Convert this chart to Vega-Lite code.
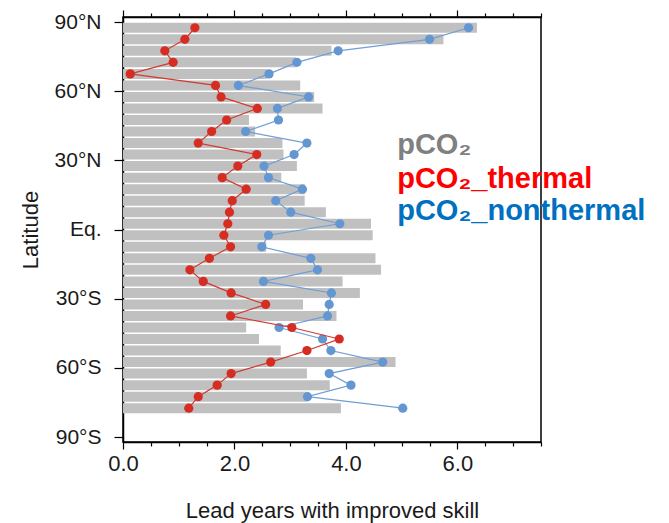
{
  "$schema": "https://vega.github.io/schema/vega-lite/v6.json",
  "width": 418,
  "height": 425,
  "autosize": {"type": "none"},
  "padding": {"left": 123, "top": 17, "right": 128, "bottom": 81},
  "background": "white",
  "config": {
    "font": "Liberation Sans",
    "view": {"stroke": "black", "strokeWidth": 1.5},
    "axis": {"grid": false, "domainColor": "black", "domainWidth": 1.5, "tickColor": "black", "tickWidth": 1.2, "labelColor": "#1a1a1a", "titleColor": "#1a1a1a", "labelFont": "Liberation Sans", "titleFont": "Liberation Sans", "titleFontWeight": "normal", "labelFlush": false}
  },
  "datasets": {
    "zonal": [
      {"lat": 87.5, "pco2": 6.35, "thermal": 1.29, "nonthermal": 6.20},
      {"lat": 82.5, "pco2": 5.75, "thermal": 1.11, "nonthermal": 5.50},
      {"lat": 77.5, "pco2": 3.74, "thermal": 0.75, "nonthermal": 3.86},
      {"lat": 72.5, "pco2": 3.10, "thermal": 0.90, "nonthermal": 3.12},
      {"lat": 67.5, "pco2": 2.58, "thermal": 0.13, "nonthermal": 2.62},
      {"lat": 62.5, "pco2": 3.18, "thermal": 1.66, "nonthermal": 2.07},
      {"lat": 57.5, "pco2": 3.43, "thermal": 1.76, "nonthermal": 3.33},
      {"lat": 52.5, "pco2": 3.58, "thermal": 2.41, "nonthermal": 2.77},
      {"lat": 47.5, "pco2": 2.26, "thermal": 1.86, "nonthermal": 2.79},
      {"lat": 42.5, "pco2": 2.37, "thermal": 1.59, "nonthermal": 2.20},
      {"lat": 37.5, "pco2": 2.86, "thermal": 1.35, "nonthermal": 3.30},
      {"lat": 32.5, "pco2": 2.88, "thermal": 2.40, "nonthermal": 3.07},
      {"lat": 27.5, "pco2": 3.12, "thermal": 2.06, "nonthermal": 2.53},
      {"lat": 22.5, "pco2": 2.84, "thermal": 1.78, "nonthermal": 2.61},
      {"lat": 17.5, "pco2": 3.26, "thermal": 2.21, "nonthermal": 3.22},
      {"lat": 12.5, "pco2": 3.26, "thermal": 1.96, "nonthermal": 2.74},
      {"lat": 7.5, "pco2": 3.64, "thermal": 1.91, "nonthermal": 3.01},
      {"lat": 2.5, "pco2": 4.45, "thermal": 1.88, "nonthermal": 3.89},
      {"lat": -2.5, "pco2": 4.48, "thermal": 1.81, "nonthermal": 2.61},
      {"lat": -7.5, "pco2": 2.57, "thermal": 1.93, "nonthermal": 2.49},
      {"lat": -12.5, "pco2": 4.53, "thermal": 1.55, "nonthermal": 3.37},
      {"lat": -17.5, "pco2": 4.63, "thermal": 1.20, "nonthermal": 3.49},
      {"lat": -22.5, "pco2": 3.94, "thermal": 1.44, "nonthermal": 2.52},
      {"lat": -27.5, "pco2": 4.25, "thermal": 1.94, "nonthermal": 3.74},
      {"lat": -32.5, "pco2": 3.23, "thermal": 2.56, "nonthermal": 3.70},
      {"lat": -37.5, "pco2": 3.83, "thermal": 1.93, "nonthermal": 3.67},
      {"lat": -42.5, "pco2": 2.21, "thermal": 3.03, "nonthermal": 2.80},
      {"lat": -47.5, "pco2": 2.44, "thermal": 3.88, "nonthermal": 3.58},
      {"lat": -52.5, "pco2": 2.83, "thermal": 3.30, "nonthermal": 3.73},
      {"lat": -57.5, "pco2": 4.89, "thermal": 2.65, "nonthermal": 4.66},
      {"lat": -62.5, "pco2": 3.30, "thermal": 1.94, "nonthermal": 3.70},
      {"lat": -67.5, "pco2": 3.71, "thermal": 1.69, "nonthermal": 4.09},
      {"lat": -72.5, "pco2": 3.31, "thermal": 1.35, "nonthermal": 3.31},
      {"lat": -77.5, "pco2": 3.91, "thermal": 1.18, "nonthermal": 5.02}
    ]
  },
  "data": {"name": "zonal"},
  "layer": [
    {
      "mark": {"type": "bar", "orient": "horizontal", "size": 10, "color": "#c0c0c0"},
      "encoding": {
        "y": {"field": "lat", "type": "quantitative", "scale": {"domain": [-90, 90], "nice": false, "zero": false},
          "axis": {"title": "Latitude", "values": [-90, -60, -30, 0, 30, 60, 90], "labelExpr": "datum.value == 0 ? 'Eq.' : abs(datum.value) + '°' + (datum.value > 0 ? 'N' : 'S')", "tickSize": 9, "labelPadding": 13, "labelFontSize": 21, "titleFontSize": 22, "titlePadding": 12}},
        "x": {"field": "pco2", "type": "quantitative", "scale": {"domain": [0, 7.5], "nice": false},
          "axis": {"orient": "bottom", "title": "Lead years with improved skill", "values": [0, 0.5, 1, 1.5, 2, 2.5, 3, 3.5, 4, 4.5, 5, 5.5, 6, 6.5, 7, 7.5], "labelExpr": "datum.value % 2 == 0 ? format(datum.value, '.1f') : ''", "tickSize": {"condition": {"test": "datum.value % 2 == 0", "value": 7}, "value": 4}, "labelPadding": 4, "labelFontSize": 22, "titleFontSize": 22, "titlePadding": 26}}
      }
    },
    {
      "mark": {"type": "line", "color": "#6f9fd6", "strokeWidth": 1.2},
      "encoding": {
        "y": {"field": "lat", "type": "quantitative"},
        "x": {"field": "nonthermal", "type": "quantitative",
          "axis": {"orient": "top", "title": null, "labels": false, "values": [0, 0.5, 1, 1.5, 2, 2.5, 3, 3.5, 4, 4.5, 5, 5.5, 6, 6.5, 7, 7.5], "tickSize": {"condition": {"test": "datum.value % 2 == 0", "value": 7}, "value": 4}}},
        "order": {"field": "lat", "type": "quantitative"}
      }
    },
    {
      "mark": {"type": "circle", "color": "#6497d2", "opacity": 1, "size": 85},
      "encoding": {
        "y": {"field": "lat", "type": "quantitative"},
        "x": {"field": "nonthermal", "type": "quantitative", "axis": null}
      }
    },
    {
      "mark": {"type": "line", "color": "#d23a2e", "strokeWidth": 1.2},
      "encoding": {
        "y": {"field": "lat", "type": "quantitative"},
        "x": {"field": "thermal", "type": "quantitative", "axis": null},
        "order": {"field": "lat", "type": "quantitative"}
      }
    },
    {
      "mark": {"type": "circle", "color": "#d52d22", "opacity": 1, "size": 85},
      "encoding": {
        "y": {"field": "lat", "type": "quantitative"},
        "x": {"field": "thermal", "type": "quantitative", "axis": null}
      }
    },
    {
      "data": {"values": [{}]},
      "mark": {"type": "text", "align": "left", "baseline": "alphabetic", "fontSize": 29, "fontWeight": "bold", "color": "#808080", "font": "Liberation Sans"},
      "encoding": {
        "x": {"datum": 4.92, "type": "quantitative", "axis": null},
        "y": {"datum": 32.6, "type": "quantitative"},
        "text": {"value": "pCO₂"}
      }
    },
    {
      "data": {"values": [{}]},
      "mark": {"type": "text", "align": "left", "baseline": "alphabetic", "fontSize": 29, "fontWeight": "bold", "color": "#ff0000", "font": "Liberation Sans"},
      "encoding": {
        "x": {"datum": 4.92, "type": "quantitative", "axis": null},
        "y": {"datum": 17.8, "type": "quantitative"},
        "text": {"value": "pCO₂_thermal"}
      }
    },
    {
      "data": {"values": [{}]},
      "mark": {"type": "text", "align": "left", "baseline": "alphabetic", "fontSize": 29, "fontWeight": "bold", "color": "#0070c0", "font": "Liberation Sans"},
      "encoding": {
        "x": {"datum": 4.92, "type": "quantitative", "axis": null},
        "y": {"datum": 4.2, "type": "quantitative"},
        "text": {"value": "pCO₂_nonthermal"}
      }
    }
  ],
  "resolve": {"axis": {"x": "independent"}}
}
